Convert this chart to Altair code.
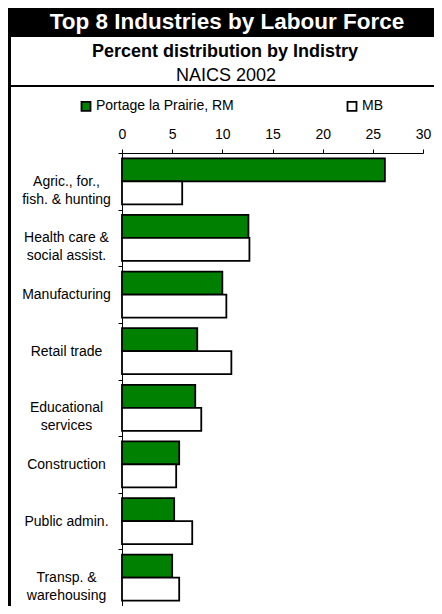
import altair as alt
import pandas as pd

# ---- data ----
industries = [
    "Agric., for.,|fish. & hunting",
    "Health care &|social assist.",
    "Manufacturing",
    "Retail trade",
    "Educational|services",
    "Construction",
    "Public admin.",
    "Transp. &|warehousing",
]
portage = [26.2, 12.6, 10.0, 7.5, 7.3, 5.7, 5.2, 5.0]
mb = [6.0, 12.7, 10.4, 10.9, 7.9, 5.4, 7.0, 5.7]
series = ["Portage la Prairie, RM", "MB"]
series_colors = ["#008000", "#ffffff"]
x_ticks = [0, 5, 10, 15, 20, 25, 30]

title_text = "Top 8 Industries by Labour Force"
subtitle_text = "Percent distribution by Indistry"
naics_text = "NAICS 2002"

rows = []
for i, ind in enumerate(industries):
    rows.append({"industry": ind, "series": series[0], "value": portage[i]})
    rows.append({"industry": ind, "series": series[1], "value": mb[i]})
df = pd.DataFrame(rows)

FONT = "Liberation Sans"
W, H = 301, 453
one = pd.DataFrame({"d": [0]})

bars = alt.Chart(df).mark_bar(stroke="black", strokeWidth=1.8).encode(
    y=alt.Y(
        "industry:N",
        sort=industries,
        scale=alt.Scale(paddingInner=0, paddingOuter=0),
        axis=alt.Axis(
            title=None,
            tickBand="extent",
            labelExpr="split(datum.label, '|')",
            labelAlign="center",
            labelBaseline="middle",
            labelPadding=52,
            labelFontSize=14,
            labelLineHeight=18,
            labelFont=FONT,
            labelColor="black",
            labelLimit=0,
            domainColor="black",
            tickColor="black",
            tickSize=4,
        ),
    ),
    yOffset=alt.YOffset(
        "series:N", sort=series, scale=alt.Scale(paddingOuter=0.23, paddingInner=0)
    ),
    x=alt.X(
        "value:Q",
        scale=alt.Scale(domain=[0, 30], nice=False),
        axis=alt.Axis(
            orient="top",
            values=x_ticks,
            title=None,
            grid=False,
            labelFlush=False,
            labelFontSize=14,
            labelFont=FONT,
            labelColor="black",
            labelPadding=7.5,
            tickSize=4,
            tickColor="black",
            domainColor="black",
        ),
    ),
    color=alt.Color(
        "series:N",
        sort=series,
        scale=alt.Scale(domain=series, range=series_colors),
        legend=alt.Legend(
            orient="none",
            legendX=-43,
            legendY=-54,
            direction="horizontal",
            title=None,
            symbolType="square",
            symbolSize=81,
            symbolStrokeColor="black",
            symbolStrokeWidth=1.8,
            labelFontSize=14,
            labelFont=FONT,
            labelColor="black",
            labelOffset=3,
            columnPadding=109,
        ),
    ),
)

banner = alt.Chart(one).mark_rect(color="black").encode(
    x=alt.value(-114), x2=alt.value(312), y=alt.value(-145), y2=alt.value(-116)
)
left_line = alt.Chart(one).mark_rect(color="black").encode(
    x=alt.value(-114), x2=alt.value(-111), y=alt.value(-145), y2=alt.value(453)
)
sep_line = alt.Chart(one).mark_rect(color="black").encode(
    x=alt.value(-114), x2=alt.value(312), y=alt.value(-68), y2=alt.value(-66)
)
t1 = alt.Chart(one).mark_text(
    text=title_text, font=FONT, fontSize=22.5, fontWeight="bold", color="white",
    align="center", baseline="middle"
).encode(x=alt.value(105), y=alt.value(-131.5))
t2 = alt.Chart(one).mark_text(
    text=subtitle_text, font=FONT, fontSize=18, fontWeight="bold", color="black",
    align="center", baseline="middle"
).encode(x=alt.value(103), y=alt.value(-101))
t3 = alt.Chart(one).mark_text(
    text=naics_text, font=FONT, fontSize=18, color="black",
    align="center", baseline="middle"
).encode(x=alt.value(104), y=alt.value(-77))

chart = alt.layer(banner, left_line, sep_line, t1, t2, t3, bars).properties(
    width=W,
    height=H,
    padding={"left": 114, "top": 145, "right": 11, "bottom": 0},
    autosize=alt.AutoSizeParams(type="none"),
).configure_view(stroke=None)

chart.save("out.html", embed_options={"renderer": "svg", "actions": False})
